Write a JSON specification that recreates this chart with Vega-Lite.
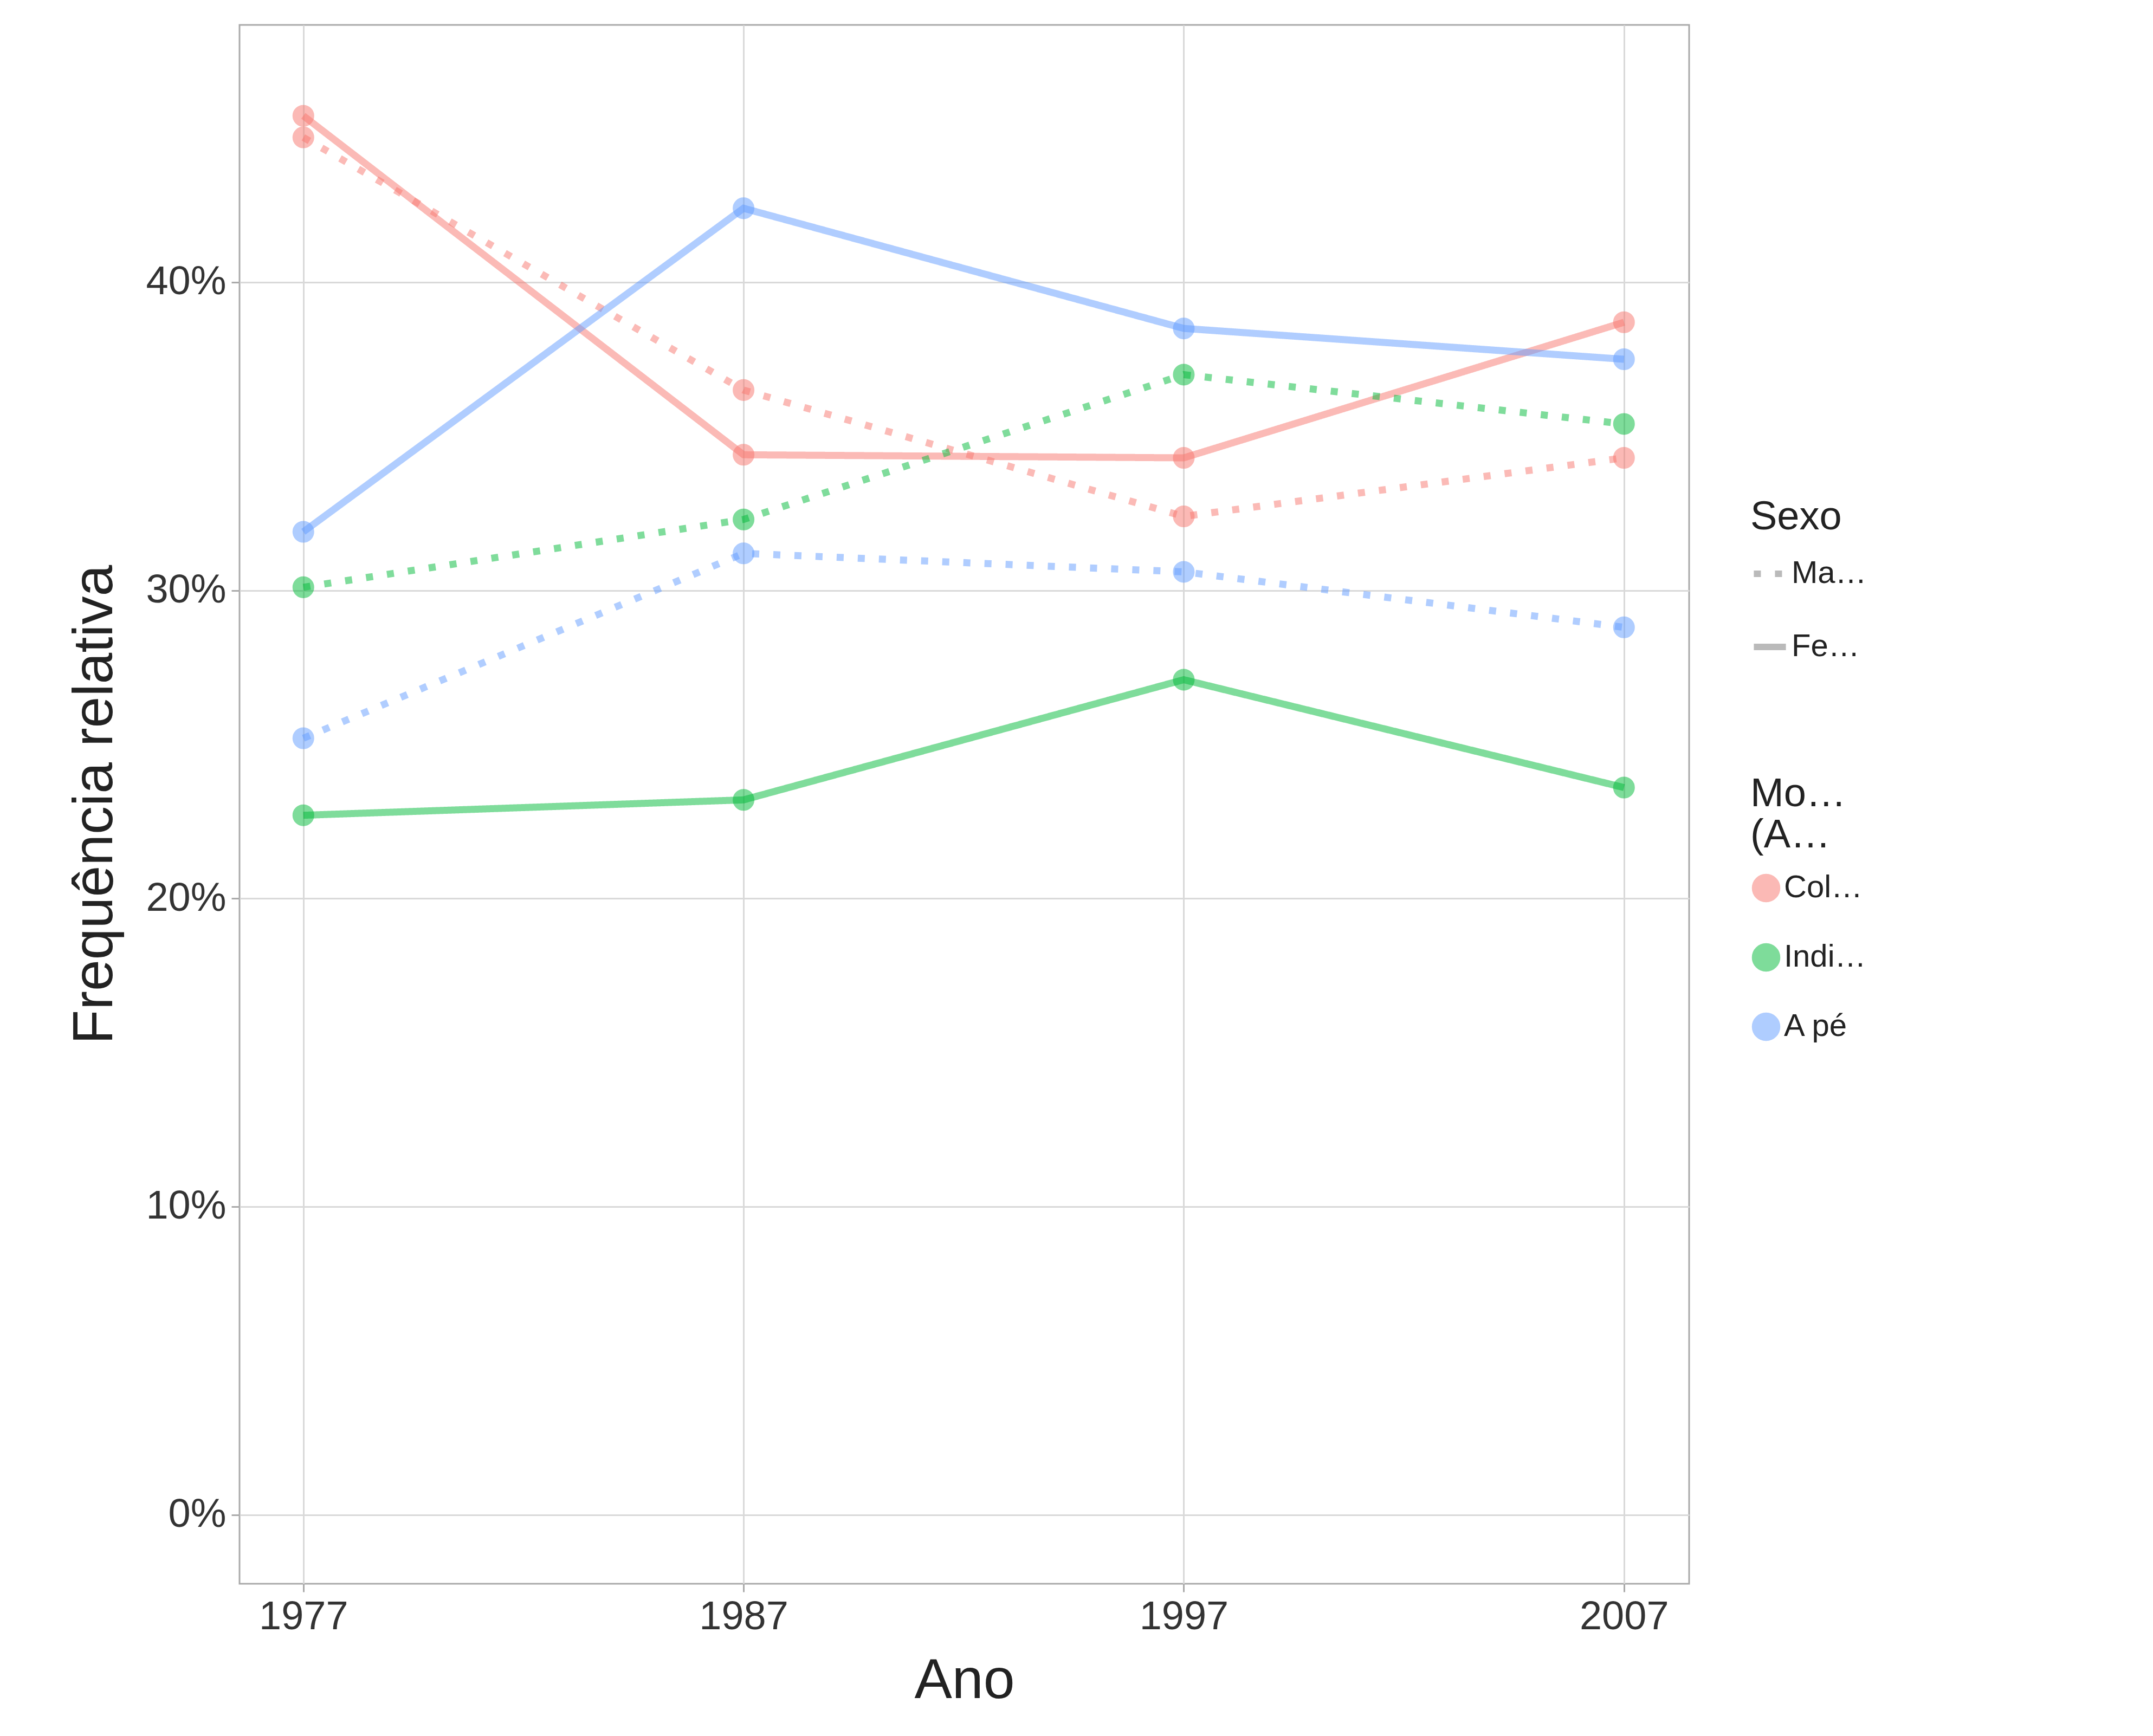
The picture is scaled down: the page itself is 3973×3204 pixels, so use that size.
{
  "$schema": "https://vega.github.io/schema/vega-lite/v6.json",
  "width": 2675,
  "height": 2877,
  "autosize": {"type": "none"},
  "padding": {"left": 442, "top": 46, "right": 856, "bottom": 281},
  "background": "white",
  "config": {
    "view": {"stroke": "#aaaaaa", "strokeWidth": 3},
    "font": "Liberation Sans",
    "axis": {
      "gridColor": "#d9d9d9", "gridWidth": 3, "domain": false,
      "tickColor": "#aaaaaa", "tickWidth": 3, "tickSize": 15,
      "labelFontSize": 74, "labelColor": "#333333", "labelPadding": 10,
      "titleFontSize": 104, "titleFontWeight": "normal", "titleColor": "#222222"
    },
    "legend": {
      "titleFontSize": 74, "titleFontWeight": "normal", "titleColor": "#222222",
      "labelFontSize": 58, "labelColor": "#222222",
      "symbolSize": 2600, "rowPadding": 70, "titlePadding": 30
    }
  },
  "data": {"values": [
    {"ano": 1977, "modo": "Coletivo", "sexo": "Feminino", "v": 0.454},
    {"ano": 1987, "modo": "Coletivo", "sexo": "Feminino", "v": 0.344},
    {"ano": 1997, "modo": "Coletivo", "sexo": "Feminino", "v": 0.343},
    {"ano": 2007, "modo": "Coletivo", "sexo": "Feminino", "v": 0.387},
    {"ano": 1977, "modo": "Coletivo", "sexo": "Masculino", "v": 0.447},
    {"ano": 1987, "modo": "Coletivo", "sexo": "Masculino", "v": 0.365},
    {"ano": 1997, "modo": "Coletivo", "sexo": "Masculino", "v": 0.324},
    {"ano": 2007, "modo": "Coletivo", "sexo": "Masculino", "v": 0.343},
    {"ano": 1977, "modo": "Individual", "sexo": "Feminino", "v": 0.227},
    {"ano": 1987, "modo": "Individual", "sexo": "Feminino", "v": 0.232},
    {"ano": 1997, "modo": "Individual", "sexo": "Feminino", "v": 0.271},
    {"ano": 2007, "modo": "Individual", "sexo": "Feminino", "v": 0.236},
    {"ano": 1977, "modo": "Individual", "sexo": "Masculino", "v": 0.301},
    {"ano": 1987, "modo": "Individual", "sexo": "Masculino", "v": 0.323},
    {"ano": 1997, "modo": "Individual", "sexo": "Masculino", "v": 0.370},
    {"ano": 2007, "modo": "Individual", "sexo": "Masculino", "v": 0.354},
    {"ano": 1977, "modo": "A pé", "sexo": "Feminino", "v": 0.319},
    {"ano": 1987, "modo": "A pé", "sexo": "Feminino", "v": 0.424},
    {"ano": 1997, "modo": "A pé", "sexo": "Feminino", "v": 0.385},
    {"ano": 2007, "modo": "A pé", "sexo": "Feminino", "v": 0.375},
    {"ano": 1977, "modo": "A pé", "sexo": "Masculino", "v": 0.252},
    {"ano": 1987, "modo": "A pé", "sexo": "Masculino", "v": 0.312},
    {"ano": 1997, "modo": "A pé", "sexo": "Masculino", "v": 0.306},
    {"ano": 2007, "modo": "A pé", "sexo": "Masculino", "v": 0.288}
  ]},
  "encoding": {
    "x": {"field": "ano", "type": "quantitative", "title": "Ano",
      "scale": {"domain": [1975.55, 2008.48], "nice": false, "zero": false},
      "axis": {"values": [1977, 1987, 1997, 2007], "format": "d", "titlePadding": 30}},
    "y": {"field": "v", "type": "quantitative", "title": "Frequência relativa",
      "scale": {"domain": [-0.0224, 0.4835], "nice": false, "zero": false},
      "axis": {"values": [0, 0.1, 0.2, 0.3, 0.4], "format": ".0%", "titlePadding": 40}},
    "color": {"field": "modo", "type": "nominal", "title": ["Modo da viagem", "(Agregado)"],
      "scale": {"domain": ["Coletivo", "Individual", "A pé"], "range": ["#F8766D", "#00BA38", "#619CFF"]},
      "legend": {"orient": "none", "legendX": 2788, "legendY": 1384, "symbolOpacity": 0.5}}
  },
  "layer": [
    {
      "mark": {"type": "line", "strokeWidth": 13, "opacity": 0.5},
      "encoding": {
        "detail": {"field": "sexo"},
        "strokeDash": {"field": "sexo", "type": "nominal", "title": "Sexo",
          "scale": {"domain": ["Masculino", "Feminino"], "range": [[13, 26], [1, 0]]},
          "legend": {"orient": "none", "legendX": 2788, "legendY": 873, "symbolType": "stroke", "symbolStrokeColor": "#777777", "symbolStrokeWidth": 12, "symbolSize": 3500}}
      }
    },
    {
      "mark": {"type": "point", "filled": true, "size": 1300, "opacity": 0.5, "strokeWidth": 4},
      "encoding": {"stroke": {"field": "modo", "type": "nominal", "legend": null,
        "scale": {"domain": ["Coletivo", "Individual", "A pé"], "range": ["#F8766D", "#00BA38", "#619CFF"]}}}
    }
  ]
}
